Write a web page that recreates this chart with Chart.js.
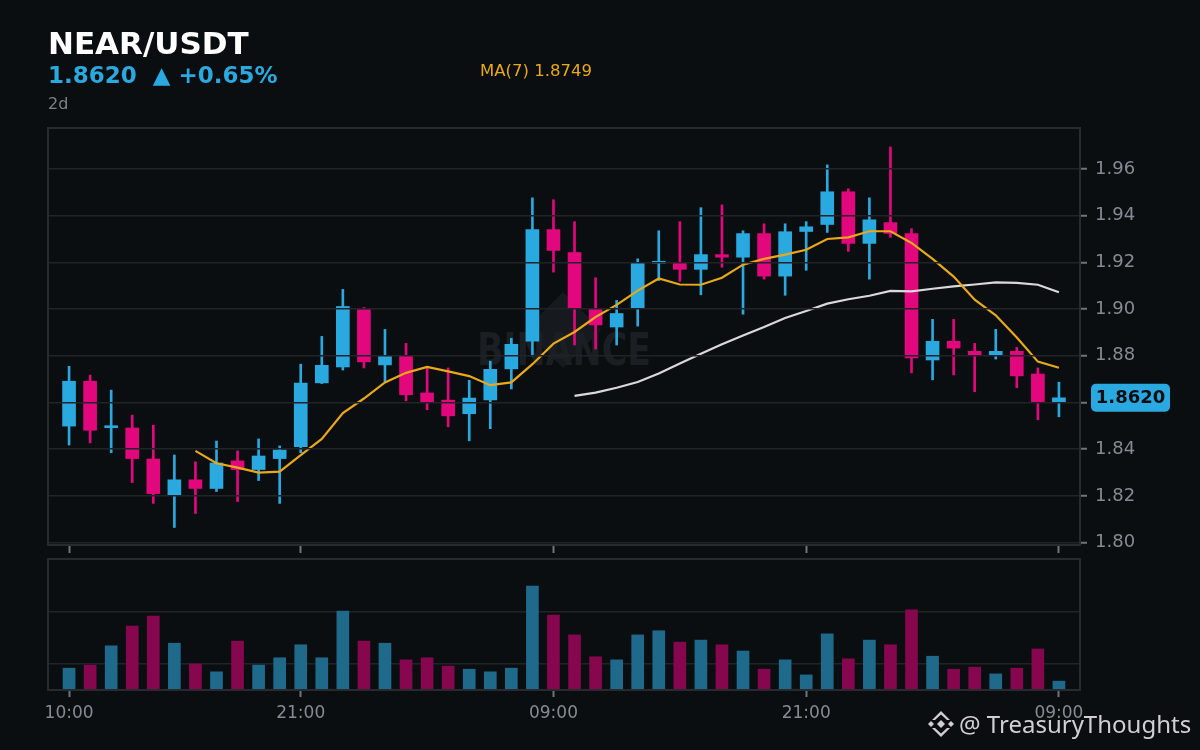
<!DOCTYPE html>
<html>
<head>
<meta charset="utf-8">
<script src="https://cdn.jsdelivr.net/npm/chart.js@4.4.1/dist/chart.umd.min.js"></script>
<style>
  html, body { margin: 0; padding: 0; background: #0b0e11; }
  #wrap { position: relative; width: 1200px; height: 750px; overflow: hidden; background: #0b0e11; }
  #priceChart { position: absolute; left: 0; top: 0; }
  #volChart { position: absolute; left: 0; top: 550px; }
</style>
</head>
<body>
<div id="wrap">
  <canvas id="priceChart" width="1200" height="565"></canvas>
  <canvas id="volChart" width="1200" height="200"></canvas>
</div>
<script>
// hourly candles, NEAR/USDT, last 2 days
const hours = [
  "10:00","11:00","12:00","13:00","14:00","15:00","16:00","17:00","18:00","19:00","20:00","21:00",
  "22:00","23:00","00:00","01:00","02:00","03:00","04:00","05:00","06:00","07:00","08:00","09:00",
  "10:00","11:00","12:00","13:00","14:00","15:00","16:00","17:00","18:00","19:00","20:00","21:00",
  "22:00","23:00","00:00","01:00","02:00","03:00","04:00","05:00","06:00","07:00","08:00","09:00"
];
const labelIdx = [0, 11, 23, 35, 47];

const opens = [
  1.8499, 1.8691, 1.8492, 1.8491, 1.8358, 1.8202, 1.8269, 1.8232, 1.8350, 1.8313, 1.8360, 1.8411,
  1.8684, 1.8752, 1.8998, 1.8761, 1.8798, 1.8641, 1.8610, 1.8552, 1.8611, 1.8744, 1.8863, 1.9340,
  1.9242, 1.8999, 1.8923, 1.9003, 1.9196, 1.9199, 1.9170, 1.9233, 1.9222, 1.9323, 1.9141, 1.9332,
  1.9362, 1.9502, 1.9281, 1.9370, 1.9323, 1.8782, 1.8862, 1.8819, 1.8803, 1.8819, 1.8722, 1.8603
];
const highs = [
  1.8755, 1.8717, 1.8653, 1.8546, 1.8503, 1.8375, 1.8346, 1.8435, 1.8393, 1.8444, 1.8414, 1.8764,
  1.8883, 1.9084, 1.9007, 1.8913, 1.8853, 1.8752, 1.8748, 1.8695, 1.8777, 1.8875, 1.9476, 1.9468,
  1.9374, 1.9134, 1.9037, 1.9215, 1.9335, 1.9374, 1.9434, 1.9446, 1.9335, 1.9365, 1.9365, 1.9374,
  1.9617, 1.9515, 1.9476, 1.9694, 1.9344, 1.8956, 1.8956, 1.8853, 1.8913, 1.8836, 1.8748, 1.8687
];
const lows = [
  1.8418, 1.8427, 1.8385, 1.8257, 1.8168, 1.8065, 1.8125, 1.8219, 1.8176, 1.8266, 1.8168, 1.8385,
  1.8681, 1.8739, 1.8748, 1.8688, 1.8607, 1.8569, 1.8496, 1.8436, 1.8488, 1.8658, 1.8799, 1.9158,
  1.8846, 1.8829, 1.8846, 1.8927, 1.9122, 1.9119, 1.9061, 1.9179, 1.8978, 1.9128, 1.9059, 1.9166,
  1.9328, 1.9247, 1.9128, 1.9307, 1.8727, 1.8697, 1.8718, 1.8646, 1.8786, 1.8663, 1.8526, 1.8539
];
const closes = [
  1.8691, 1.8481, 1.8495, 1.8360, 1.8210, 1.8269, 1.8232, 1.8341, 1.8313, 1.8371, 1.8397, 1.8683,
  1.8759, 1.9011, 1.8774, 1.8798, 1.8633, 1.8603, 1.8543, 1.8619, 1.8742, 1.8849, 1.9340, 1.9251,
  1.9004, 1.8932, 1.8981, 1.9199, 1.9199, 1.9170, 1.9233, 1.9222, 1.9323, 1.9141, 1.9331, 1.9352,
  1.9502, 1.9281, 1.9382, 1.9324, 1.8791, 1.8862, 1.8833, 1.8803, 1.8819, 1.8714, 1.8603, 1.8620
];
const ma7 = [
  null, null, null, null, null, null, 1.8393, 1.8340, 1.8321, 1.8300, 1.8304, 1.8375,
  1.8444, 1.8555, 1.8617, 1.8686, 1.8727, 1.8752, 1.8733, 1.8713, 1.8674, 1.8686, 1.8764, 1.8852,
  1.8902, 1.8966, 1.9018, 1.9079, 1.9131, 1.9105, 1.9104, 1.9134, 1.9190, 1.9215, 1.9233, 1.9254,
  1.9300, 1.9307, 1.9333, 1.9333, 1.9283, 1.9215, 1.9139, 1.9040, 1.8973, 1.8878, 1.8775, 1.8749
];
const ma25 = [
  null, null, null, null, null, null, null, null, null, null, null, null,
  null, null, null, null, null, null, null, null, null, null, null, null,
  1.8628, 1.8642, 1.8663, 1.8688, 1.8724, 1.8767, 1.8809, 1.8849, 1.8887, 1.8923, 1.8962, 1.8992,
  1.9023, 1.9042, 1.9057, 1.9078, 1.9076, 1.9087, 1.9097, 1.9105, 1.9114, 1.9112, 1.9104, 1.9072
];
const volumes = [
  42, 48, 85, 123, 142, 90, 50, 35, 94, 48, 62, 87,
  62, 152, 94, 90, 58, 62, 46, 40, 35, 42, 200, 144,
  106, 64, 58, 106, 114, 92, 96, 87, 75, 40, 58, 29,
  108, 60, 96, 87, 154, 65, 40, 44, 31, 42, 79, 17
];
const yTicks = [1.80, 1.82, 1.84, 1.86, 1.88, 1.90, 1.92, 1.94, 1.96];
const volGrid = [50, 150];
const lastPrice = 1.8620;

const UP = "#29a9e0";
const DOWN = "#e2077d";
const UP_VOL = "#1f6a8b";
const DOWN_VOL = "#86074e";
const GRID = "#202328";
const FRAME = "#272b30";
const TICK = "#6f747c";
const LABEL = "#868b93";
const FONT = "'DejaVu Sans', sans-serif";

const isUp = closes.map((c, i) => c >= opens[i]);
const candleColors = isUp.map(u => (u ? UP : DOWN));
const volColors = isUp.map(u => (u ? UP_VOL : DOWN_VOL));

// border round the plot area
const framePlugin = {
  id: "frame",
  afterDraw(chart) {
    const a = chart.chartArea;
    const ctx = chart.ctx;
    ctx.save();
    ctx.strokeStyle = FRAME;
    ctx.lineWidth = 2;
    ctx.strokeRect(a.left, a.top, a.right - a.left, a.bottom - a.top);
    ctx.restore();
  }
};

// faint exchange mark behind the candles
const watermarkPlugin = {
  id: "watermark",
  beforeDatasetsDraw(chart) {
    const ctx = chart.ctx;
    const cx = 563, cy = 330;
    ctx.save();
    ctx.fillStyle = "#16191d";
    ctx.beginPath();
    ctx.moveTo(cx, cy - 38);
    ctx.lineTo(cx + 38, cy);
    ctx.lineTo(cx, cy + 38);
    ctx.lineTo(cx - 38, cy);
    ctx.closePath();
    ctx.fill();
    ctx.fillStyle = "#1b1e22";
    ctx.font = "bold 44px 'DejaVu Sans'";
    ctx.textAlign = "center";
    ctx.textBaseline = "alphabetic";
    ctx.fillText("BINANCE", 564, 365, 174);
    ctx.restore();
  }
};

// header texts and the last price tag
const headerPlugin = {
  id: "header",
  afterDraw(chart) {
    const ctx = chart.ctx;
    ctx.save();
    ctx.textBaseline = "alphabetic";
    ctx.textAlign = "left";
    ctx.fillStyle = "#ffffff";
    ctx.font = "bold 31px 'DejaVu Sans'";
    ctx.fillText("NEAR/USDT", 48, 53.5);
    ctx.fillStyle = UP;
    ctx.font = "bold 23px 'DejaVu Sans'";
    ctx.fillText("1.8620  \u25B2 +0.65%", 48, 82.5);
    ctx.fillStyle = "#7d828a";
    ctx.font = "16px 'DejaVu Sans'";
    ctx.fillText("2d", 48, 108.5);
    ctx.fillStyle = "#e8a818";
    ctx.font = "16.5px 'DejaVu Sans'";
    ctx.fillText("MA(7) 1.8749", 480, 76);

    const y = chart.scales.y.getPixelForValue(lastPrice);
    ctx.fillStyle = UP;
    ctx.beginPath();
    ctx.roundRect(1091, y - 14, 79, 28, 5);
    ctx.fill();
    ctx.fillStyle = "#0b0e11";
    ctx.font = "bold 18px 'DejaVu Sans'";
    ctx.textAlign = "center";
    ctx.textBaseline = "middle";
    ctx.fillText(lastPrice.toFixed(4), 1130.5, y + 1);
    ctx.restore();
  }
};

// author tag bottom right
const creditPlugin = {
  id: "credit",
  afterDraw(chart) {
    const ctx = chart.ctx;
    const cx = 941, cy = 174;
    ctx.save();
    ctx.fillStyle = "#cfd0d2";
    const diamond = (x, y, r) => {
      ctx.beginPath();
      ctx.moveTo(x, y - r);
      ctx.lineTo(x + r, y);
      ctx.lineTo(x, y + r);
      ctx.lineTo(x - r, y);
      ctx.closePath();
      ctx.fill();
    };
    diamond(cx, cy, 4);
    diamond(cx - 10, cy, 3);
    diamond(cx + 10, cy, 3);
    // top and bottom chevrons
    [-1, 1].forEach(s => {
      ctx.beginPath();
      ctx.moveTo(cx - 9, cy + s * 4);
      ctx.lineTo(cx, cy + s * 13);
      ctx.lineTo(cx + 9, cy + s * 4);
      ctx.lineTo(cx + 6, cy + s * 4);
      ctx.lineTo(cx, cy + s * 9.5);
      ctx.lineTo(cx - 6, cy + s * 4);
      ctx.closePath();
      ctx.fill();
    });
    ctx.font = "24px 'Noto Sans'";
    ctx.textAlign = "left";
    ctx.textBaseline = "alphabetic";
    ctx.fillText("@ TreasuryThoughts", 959, 183);
    ctx.restore();
  }
};

const fixTicks = values => scale => {
  scale.ticks = values.map(v => ({ value: v }));
};

new Chart(document.getElementById("priceChart"), {
  type: "bar",
  data: {
    datasets: [
      {
        type: "line",
        label: "MA(7)",
        data: ma7.map((v, i) => ({ x: i, y: v })),
        borderColor: "#e8a818",
        borderWidth: 2.2,
        pointRadius: 0,
        order: 0
      },
      {
        type: "line",
        label: "MA(25)",
        data: ma25.map((v, i) => ({ x: i, y: v })),
        borderColor: "#d8d9db",
        borderWidth: 2.2,
        pointRadius: 0,
        order: 0
      },
      {
        label: "body",
        data: opens.map((o, i) => ({ x: i, y: [o, closes[i]] })),
        backgroundColor: candleColors,
        barThickness: 13,
        minBarLength: 2,
        grouped: false,
        order: 1
      },
      {
        label: "wick",
        data: lows.map((l, i) => ({ x: i, y: [l, highs[i]] })),
        backgroundColor: candleColors,
        barThickness: 2,
        grouped: false,
        order: 2
      }
    ]
  },
  options: {
    responsive: false,
    animation: false,
    layout: { padding: { left: 48, top: 128, right: 0, bottom: 0 } },
    plugins: { legend: { display: false }, tooltip: { enabled: false } },
    scales: {
      x: {
        type: "linear",
        min: -1,
        max: 48,
        offset: false,
        afterBuildTicks: fixTicks(labelIdx),
        afterFit: s => { s.height = 20; },
        ticks: { display: false },
        grid: { offset: false, drawOnChartArea: false, tickLength: 8, tickColor: TICK, tickWidth: 2 },
        border: { display: false }
      },
      y: {
        position: "right",
        min: 1.799,
        max: 1.9775,
        afterBuildTicks: fixTicks(yTicks),
        afterFit: s => { s.width = 120; },
        ticks: {
          color: LABEL,
          padding: 8,
          font: { family: FONT, size: 18 },
          callback: v => v.toFixed(2)
        },
        grid: { color: GRID, lineWidth: 1.5, z: 1, tickColor: TICK, tickWidth: 2, tickLength: 7 },
        border: { display: false }
      }
    }
  },
  plugins: [watermarkPlugin, framePlugin, headerPlugin]
});

new Chart(document.getElementById("volChart"), {
  type: "bar",
  data: {
    datasets: [
      {
        label: "volume",
        data: volumes.map((v, i) => ({ x: i, y: v })),
        backgroundColor: volColors,
        barThickness: 12
      }
    ]
  },
  options: {
    responsive: false,
    animation: false,
    layout: { padding: { left: 48, top: 9, right: 0, bottom: 0 } },
    plugins: { legend: { display: false }, tooltip: { enabled: false } },
    scales: {
      x: {
        type: "linear",
        min: -1,
        max: 48,
        offset: false,
        afterBuildTicks: fixTicks(labelIdx),
        afterFit: s => { s.height = 60; },
        ticks: {
          color: LABEL,
          padding: 6,
          maxRotation: 0,
          autoSkip: false,
          font: { family: FONT, size: 17 },
          callback: v => hours[v]
        },
        grid: { offset: false, drawOnChartArea: false, tickLength: 7, tickColor: TICK, tickWidth: 2 },
        border: { display: false }
      },
      y: {
        position: "right",
        min: 0,
        max: 252,
        afterBuildTicks: fixTicks(volGrid),
        afterFit: s => { s.width = 120; },
        ticks: { display: false },
        grid: { color: GRID, lineWidth: 1.5, drawTicks: false },
        border: { display: false }
      }
    }
  },
  plugins: [framePlugin, creditPlugin]
});
</script>
</body>
</html>
